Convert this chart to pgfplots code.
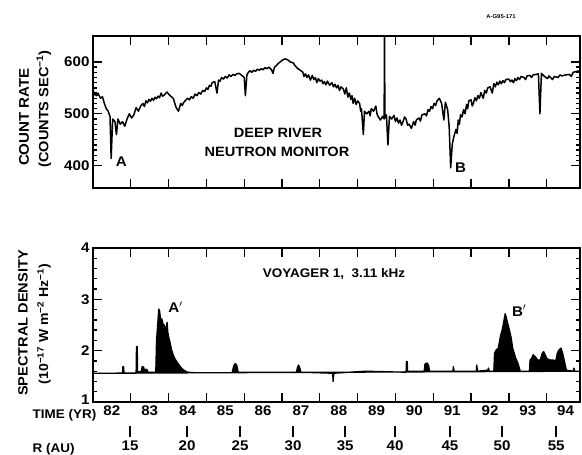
\documentclass[border=0pt]{standalone}
\usepackage{fontspec}
\setmainfont{Liberation Sans}[FakeStretch=1.08]
\usepackage{pgfplots}
\pgfplotsset{compat=1.18}

% neutron monitor count rate (year, counts/s)
\pgfplotstableread{
yr cnt
1982.00 530
1982.03 542
1982.06 537
1982.10 535
1982.13 540
1982.17 534
1982.20 530
1982.25 533
1982.30 520
1982.35 510
1982.40 505
1982.45 495
1982.48 414
1982.52 490
1982.58 485
1982.62 460
1982.66 490
1982.72 480
1982.78 485
1982.84 476
1982.90 490
1982.96 500
1983.02 492
1983.08 498
1983.14 512
1983.20 505
1983.26 515
1983.32 520
1983.36 514
1983.40 525
1983.44 521
1983.48 528
1983.52 524
1983.56 530
1983.60 526
1983.64 532
1983.68 529
1983.72 534
1983.76 531
1983.80 540
1983.84 534
1983.88 536
1983.92 539
1983.96 542
1984.00 538
1984.04 535
1984.12 530
1984.20 512
1984.26 505
1984.32 520
1984.36 516
1984.40 522
1984.45 526
1984.50 530
1984.55 527
1984.60 533
1984.65 530
1984.70 538
1984.75 535
1984.80 541
1984.85 538
1984.90 545
1984.95 543
1985.00 550
1985.04 547
1985.08 555
1985.12 553
1985.15 560
1985.22 562
1985.28 540
1985.32 565
1985.36 563
1985.40 570
1985.45 567
1985.50 572
1985.55 569
1985.60 575
1985.65 572
1985.70 576
1985.75 574
1985.80 577
1985.86 578
1985.92 575
1986.00 570
1986.03 535
1986.07 575
1986.11 580
1986.15 583
1986.20 580
1986.25 584
1986.30 582
1986.35 586
1986.40 584
1986.45 587
1986.50 585
1986.55 589
1986.60 587
1986.65 590
1986.72 585
1986.76 578
1986.80 590
1986.85 593
1986.90 597
1986.95 600
1987.00 603
1987.08 606
1987.15 604
1987.22 600
1987.30 598
1987.34 593
1987.38 590
1987.42 587
1987.46 585
1987.50 583
1987.55 580
1987.58 572
1987.62 577
1987.66 570
1987.70 575
1987.75 565
1987.80 574
1987.84 566
1987.88 570
1987.92 560
1987.96 568
1988.00 563
1988.05 565
1988.08 558
1988.12 562
1988.16 556
1988.20 563
1988.26 555
1988.32 560
1988.36 552
1988.40 557
1988.44 550
1988.48 555
1988.52 545
1988.56 552
1988.62 548
1988.66 538
1988.70 550
1988.74 532
1988.78 540
1988.82 528
1988.85 535
1988.88 520
1988.92 530
1988.96 518
1989.00 525
1989.05 520
1989.08 505
1989.10 510
1989.15 460
1989.18 505
1989.24 500
1989.30 505
1989.33 496
1989.36 510
1989.42 505
1989.48 515
1989.51 500
1989.54 495
1989.60 488
1989.66 495
1989.70 490
1989.71 660
1989.72 492
1989.76 498
1989.80 440
1989.84 495
1989.90 490
1989.96 497
1990.00 485
1990.04 492
1990.08 482
1990.12 488
1990.16 478
1990.20 485
1990.24 494
1990.28 490
1990.32 478
1990.36 480
1990.42 472
1990.48 485
1990.52 478
1990.55 488
1990.62 492
1990.66 486
1990.70 498
1990.78 500
1990.82 496
1990.86 508
1990.90 505
1990.94 514
1990.98 510
1991.02 520
1991.06 516
1991.10 525
1991.16 530
1991.22 520
1991.28 488
1991.32 522
1991.38 508
1991.42 475
1991.46 396
1991.50 440
1991.54 455
1991.60 470
1991.63 462
1991.66 488
1991.69 480
1991.72 498
1991.76 494
1991.80 508
1991.84 500
1991.88 518
1991.91 510
1991.94 525
1992.00 527
1992.03 515
1992.06 520
1992.10 531
1992.14 525
1992.18 535
1992.22 530
1992.26 541
1992.32 530
1992.36 545
1992.40 540
1992.44 550
1992.50 552
1992.56 540
1992.60 558
1992.64 552
1992.68 561
1992.72 556
1992.76 563
1992.80 558
1992.84 564
1992.88 560
1992.92 566
1993.00 567
1993.04 562
1993.08 565
1993.12 560
1993.16 568
1993.20 564
1993.24 570
1993.28 566
1993.32 572
1993.40 570
1993.44 566
1993.48 573
1993.56 574
1993.60 570
1993.64 575
1993.72 576
1993.78 577
1993.82 500
1993.86 578
1993.94 572
1994.02 568
1994.06 573
1994.10 570
1994.15 566
1994.20 572
1994.30 570
1994.35 575
1994.40 573
1994.50 575
1994.60 576
1994.65 572
1994.70 580
1994.80 582
1994.88 583
}\deepriver

% Voyager 1 spectral density at 3.11 kHz (year, 1e-17 W m^-2 Hz^-1)
\pgfplotstableread{
yr sd
1982.00 1.56
1982.78 1.56
1982.79 1.69
1982.81 1.69
1982.82 1.56
1983.14 1.56
1983.15 2.08
1983.17 2.08
1983.18 1.58
1983.28 1.60
1983.30 1.69
1983.34 1.68
1983.36 1.62
1983.42 1.64
1983.46 1.58
1983.66 1.58
1983.68 2.20
1983.71 2.50
1983.74 2.81
1983.76 2.78
1983.79 2.60
1983.82 2.62
1983.85 2.52
1983.88 2.50
1983.92 2.40
1983.96 2.55
1983.98 2.35
1984.00 2.27
1984.04 2.15
1984.08 2.01
1984.12 1.92
1984.16 1.85
1984.22 1.78
1984.28 1.72
1984.34 1.66
1984.40 1.62
1984.50 1.58
1984.70 1.57
1985.68 1.57
1985.72 1.70
1985.76 1.75
1985.80 1.72
1985.84 1.58
1987.38 1.58
1987.41 1.68
1987.44 1.72
1987.47 1.66
1987.50 1.58
1988.34 1.56
1988.35 1.40
1988.37 1.56
1989.20 1.60
1990.28 1.58
1990.29 1.79
1990.31 1.79
1990.32 1.60
1990.76 1.60
1990.78 1.74
1990.84 1.76
1990.88 1.70
1990.90 1.60
1991.52 1.60
1991.53 1.69
1991.55 1.60
1992.14 1.60
1992.15 1.72
1992.17 1.60
1992.44 1.62
1992.46 1.66
1992.48 1.60
1992.60 1.60
1992.62 1.95
1992.66 2.01
1992.72 2.05
1992.78 2.30
1992.82 2.40
1992.86 2.55
1992.90 2.72
1992.93 2.65
1992.96 2.55
1992.99 2.47
1993.03 2.35
1993.06 2.25
1993.10 2.05
1993.14 1.95
1993.18 1.85
1993.22 1.79
1993.26 1.70
1993.30 1.60
1993.54 1.60
1993.56 1.82
1993.60 1.85
1993.64 1.92
1993.70 1.88
1993.76 1.82
1993.83 1.82
1993.88 1.95
1993.92 1.98
1993.96 1.92
1994.00 1.85
1994.08 1.82
1994.16 1.82
1994.24 1.80
1994.28 1.95
1994.32 2.01
1994.38 2.05
1994.42 1.95
1994.46 1.82
1994.52 1.62
1994.70 1.60
1994.72 1.66
1994.74 1.60
1994.88 1.60
}\voyager

\begin{document}
\begin{tikzpicture}[x=1pt,y=1pt,font=\bfseries]
\useasboundingbox (0,0) rectangle (582,455);

\pgfplotsset{
  panel/.style={
    scale only axis, width=487pt, anchor=south west,
    xmin=1982, xmax=1994.88,
    xtick={1983,1984,...,1994}, xticklabels={},
    tick align=inside, major tick length=9pt, minor tick length=4pt,
    every tick/.style={black, line width=1.3pt},
    axis line style={line width=1.6pt},
    tick label style={font=\fontsize{14}{14}\selectfont\bfseries},
  },
}

% top panel: Deep River neutron monitor
\begin{axis}[panel, at={(93pt,267pt)}, height=152pt,
  ymin=357, ymax=650,
  ytick={400,500,600}, yticklabels={400,500,600},
  minor y tick num=9,
]
\addplot[black, line width=1.5pt, line join=round] table[x=yr, y=cnt] {\deepriver};
\node[font=\fontsize{14}{14}\selectfont\bfseries] at (axis cs:1982.75,408) {A};
\node[font=\fontsize{14}{14}\selectfont\bfseries] at (axis cs:1991.72,397) {B};
\end{axis}

% bottom panel: Voyager 1 radio emission
\begin{axis}[panel, at={(93pt,53pt)}, height=154pt,
  ymin=1, ymax=4,
  ytick={1,2,3,4}, yticklabels={\raisebox{4pt}{1},2,3,\raisebox{-1pt}{4}},
  minor y tick num=4,
  extra x ticks={1982.5,1983.5,...,1994.5},
  extra x tick labels={82,83,84,85,86,87,88,89,90,91,92,93,94},
  extra x tick style={major tick length=0pt},
]
\addplot[black, fill=black, line width=1.3pt, line join=round] table[x=yr, y=sd] {\voyager} -- cycle;
\node[font=\fontsize{14}{14}\selectfont\bfseries] at (axis cs:1984.18,2.85) {A$'$};
\node[font=\fontsize{14}{14}\selectfont\bfseries] at (axis cs:1993.27,2.78) {B$'$};
\end{axis}

% distance scale under the time axis
\begin{axis}[scale only axis, width=487pt, height=11pt, anchor=south west, at={(93pt,18pt)},
  xmin=1982, xmax=1994.88, ymin=0, ymax=1,
  hide y axis, axis x line*=bottom, x axis line style={draw=none},
  xtick={1982.98,1984.49,1985.89,1987.29,1988.67,1989.99,1991.44,1992.82,1994.25},
  xticklabels={15,20,25,30,35,40,45,50,55},
  xtick align=inside, major tick length=11pt,
  every tick/.style={black, line width=1.4pt},
  tick label style={font=\fontsize{14}{14}\selectfont\bfseries},
]
\end{axis}

\node[anchor=west, font=\fontsize{12.5}{12.5}\selectfont\bfseries] at (29,40) {TIME (YR)};
\node[anchor=west, font=\fontsize{12.5}{12.5}\selectfont\bfseries] at (29,6) {R (AU)};

\node[rotate=90, font=\fontsize{14}{14}\selectfont\bfseries] at (24,338) {COUNT RATE};
\node[rotate=90, font=\fontsize{13.5}{13.5}\selectfont\bfseries] at (44,346) {(COUNTS SEC\textsuperscript{−1})};
\node[rotate=90, font=\fontsize{13.5}{13.5}\selectfont\bfseries] at (23,132) {SPECTRAL DENSITY};
\node[rotate=90, font=\fontsize{13}{13}\selectfont\bfseries] at (44,131) {(10\textsuperscript{−17} W m\textsuperscript{−2} Hz\textsuperscript{−1})};

\node[font=\fontsize{13.5}{13.5}\selectfont\bfseries] at (278,322) {DEEP RIVER};
\node[font=\fontsize{13.5}{13.5}\selectfont\bfseries] at (277,303) {NEUTRON MONITOR};
\node[font=\fontsize{12.5}{12.5}\selectfont\bfseries] at (334,181) {VOYAGER 1,\ \ 3.11 kHz};
\node[font=\fontsize{5.5}{5.5}\selectfont\bfseries] at (501,438) {A-G95-171};
\end{tikzpicture}
\end{document}
